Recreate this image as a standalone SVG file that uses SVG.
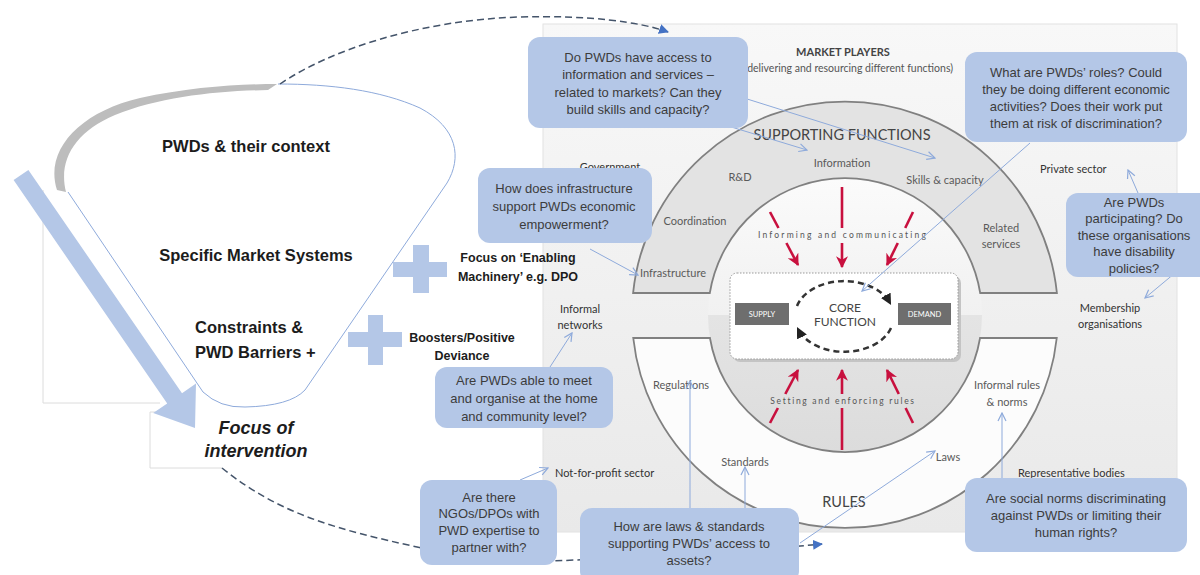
<svg xmlns="http://www.w3.org/2000/svg" width="1200" height="575" viewBox="0 0 1200 575">
<defs>
<linearGradient id="panelGrad" x1="0" y1="0" x2="0" y2="1">
<stop offset="0" stop-color="#f8f8f8"/><stop offset="1" stop-color="#e9e9e9"/>
</linearGradient>
<linearGradient id="discGrad" x1="0" y1="0" x2="0" y2="1">
<stop offset="0" stop-color="#fbfbfb"/><stop offset="0.5" stop-color="#f1f1f1"/><stop offset="0.5" stop-color="#e4e4e4"/><stop offset="1" stop-color="#dcdcdc"/>
</linearGradient>
<marker id="redHead" viewBox="0 0 10 10" refX="9" refY="5" markerWidth="12" markerHeight="12" markerUnits="userSpaceOnUse" orient="auto"><path d="M0,0 L10,5 L0,10 L3,5 Z" fill="#c8103e"/></marker>
<marker id="blueOpen" viewBox="0 0 10 10" refX="9" refY="5" markerWidth="10" markerHeight="10" markerUnits="userSpaceOnUse" orient="auto"><path d="M1,1 L9,5 L1,9" fill="none" stroke="#8eaadb" stroke-width="1.2"/></marker>
<marker id="dashHead" viewBox="0 0 10 10" refX="9" refY="5" markerWidth="10" markerHeight="10" markerUnits="userSpaceOnUse" orient="auto"><path d="M0,0 L10,5 L0,10 Z" fill="#4472c4"/></marker>
<marker id="coreHead" viewBox="0 0 10 10" refX="8" refY="5" markerWidth="11" markerHeight="11" markerUnits="userSpaceOnUse" orient="auto"><path d="M0,0 L10,5 L0,10 Z" fill="#222"/></marker>
<style>
.box{fill:#b4c7e7;}
.bt{font-family:"Liberation Sans",Arial,sans-serif;font-size:13px;fill:#3c3c3c;text-anchor:middle;}
.ft{font-family:"Liberation Sans",Arial,sans-serif;font-size:16.5px;font-weight:bold;fill:#1c1c1c;}
.pt{font-family:"Liberation Sans",Arial,sans-serif;font-size:12.5px;font-weight:bold;fill:#1c1c1c;text-anchor:middle;}
.rl{font-family:Lato,"Liberation Sans",sans-serif;font-size:11px;fill:#5a5a5a;text-anchor:middle;}
.ol{font-family:Lato,"Liberation Sans",sans-serif;font-size:11px;fill:#333;}
.plus{fill:#b4c7e7;}
.thin{fill:none;stroke:#8eaadb;stroke-width:1;marker-end:url(#blueOpen);}
.red{fill:none;stroke:#c8103e;stroke-width:2.6;}
.dash{fill:none;stroke:#44546a;stroke-width:1.5;stroke-dasharray:7 4;marker-end:url(#dashHead);}
.ring{stroke:#808080;stroke-width:1.8;}
.core{font-family:Lato,"Liberation Sans",sans-serif;font-size:12px;fill:#444;text-anchor:middle;}
</style>
</defs>
<rect width="1200" height="575" fill="#ffffff"/>

<g id="panel">
<rect x="543" y="24" width="634" height="508" fill="url(#panelGrad)" stroke="#e2e2e2" stroke-width="1"/>
</g>

<g id="backdrop-lines" fill="none" stroke="#dcdcdc" stroke-width="1">
<path d="M43,190 L43,403 L160,403"/>
<path d="M190,412 L150,412 L150,468 L222,468"/>
</g>

<g id="funnel">
<path d="M68,192 L203,392 Q220,408 245,407 Q290,406 305,390 L447,183 C462,158 458,128 420,108 C380,90 330,84 278,84" fill="#ffffff" stroke="#8eaadb" stroke-width="1"/>
<path d="M57,190 C44,150 80,112 140,98 C190,87 240,84 277,84 L268,90 C215,91 160,97 115,115 C75,132 58,160 66,192 Z" fill="#bdbdbd"/>
<text class="ft" x="246" y="152" text-anchor="middle">PWDs &amp; their context</text>
<text class="ft" x="256" y="261" text-anchor="middle">Specific Market Systems</text>
<text class="ft" x="195" y="333">Constraints &amp;</text>
<text class="ft" x="195" y="358">PWD Barriers +</text>
</g>

<g id="big-arrow">
<polygon points="28.4,169.9 182,393.2 196,383.6 195,428 153.2,413 167.2,403.4 13.6,180.1" fill="#b4c7e7"/>
</g>

<g id="focus-of-intervention">
<text x="256" y="434" text-anchor="middle" font-family="'Liberation Sans',Arial,sans-serif" font-size="18" font-weight="bold" font-style="italic" fill="#1c1c1c">Focus of</text>
<text x="256" y="457" text-anchor="middle" font-family="'Liberation Sans',Arial,sans-serif" font-size="18" font-weight="bold" font-style="italic" fill="#1c1c1c">intervention</text>
</g>

<g id="plus-enabling">
<rect class="plus" x="413" y="245" width="16" height="48"/>
<rect class="plus" x="393" y="262" width="54" height="15"/>
<text class="pt" x="518" y="262">Focus on ‘Enabling</text>
<text class="pt" x="518" y="281">Machinery’ e.g. DPO</text>
</g>

<g id="plus-boosters">
<rect class="plus" x="368" y="315" width="15" height="50"/>
<rect class="plus" x="348" y="332" width="54" height="15"/>
<text class="pt" x="462" y="342">Boosters/Positive</text>
<text class="pt" x="462" y="360">Deviance</text>
</g>

<g id="market-diagram">
<circle cx="845" cy="315" r="137" fill="url(#discGrad)"/>
<path class="ring" d="M633.1,293 A213,213 0 0 1 1056.9,293 L980.2,293 A137,137 0 0 0 709.8,293 Z" fill="#e3e3e3"/>
<path class="ring" d="M633.25,338 A213,213 0 0 0 1056.75,338 L980.06,338 A137,137 0 0 1 709.94,338 Z" fill="#fcfcfc"/>
<rect x="733" y="276" width="228" height="86" rx="7" fill="#c4c4c4"/>
<rect x="730" y="273" width="228" height="86" rx="7" fill="#ffffff" stroke="#9a9a9a" stroke-width="1" stroke-dasharray="1.5 1.5"/>
<rect x="735" y="303" width="54" height="22" fill="#6e6e6e"/>
<rect x="898" y="303" width="53" height="22" fill="#6e6e6e"/>
<text x="762" y="317" text-anchor="middle" font-family="Lato,'Liberation Sans',sans-serif" font-size="7.5" fill="#ffffff">SUPPLY</text>
<text x="924.5" y="317" text-anchor="middle" font-family="Lato,'Liberation Sans',sans-serif" font-size="7.5" fill="#ffffff">DEMAND</text>
<text class="core" x="845" y="312">CORE</text>
<text class="core" x="845" y="326">FUNCTION</text>
<path d="M797,306 A49,34 0 0 1 890,303" fill="none" stroke="#333" stroke-width="2.5" stroke-dasharray="6 4" marker-end="url(#coreHead)"/>
<path d="M891,328 A49,34 0 0 1 798,329" fill="none" stroke="#333" stroke-width="2.5" stroke-dasharray="6 4" marker-end="url(#coreHead)"/>
<text x="843" y="238" text-anchor="middle" font-family="Lato,'Liberation Sans',sans-serif" font-size="8.5" letter-spacing="2.2" fill="#555">Informing and communicating</text>
<text x="843" y="404" text-anchor="middle" font-family="Lato,'Liberation Sans',sans-serif" font-size="8.5" letter-spacing="1.7" fill="#555">Setting and enforcing rules</text>
<text x="842" y="140" text-anchor="middle" font-family="Lato,'Liberation Sans',sans-serif" font-size="14.5" fill="#444">SUPPORTING FUNCTIONS</text>
<text x="844" y="507" text-anchor="middle" font-family="Lato,'Liberation Sans',sans-serif" font-size="14.5" fill="#444">RULES</text>
<text class="rl" x="842" y="167">Information</text>
<text class="rl" x="740" y="181">R&amp;D</text>
<text class="rl" x="945" y="184">Skills &amp; capacity</text>
<text class="rl" x="695" y="225">Coordination</text>
<text class="rl" x="673" y="277">Infrastructure</text>
<text class="rl" x="1001" y="232">Related</text>
<text class="rl" x="1001" y="248">services</text>
<text class="rl" x="681" y="389">Regulations</text>
<text class="rl" x="745" y="466">Standards</text>
<text class="rl" x="948" y="461">Laws</text>
<text class="rl" x="1007" y="389">Informal rules</text>
<text class="rl" x="1007" y="406">&amp; norms</text>
</g>

<g id="market-players">
<text x="843" y="56" text-anchor="middle" font-family="Lato,'Liberation Sans',sans-serif" font-size="11" font-weight="bold" fill="#444">MARKET PLAYERS</text>
<text x="953" y="72" text-anchor="end" font-family="Lato,'Liberation Sans',sans-serif" font-size="10.5" fill="#555">(delivering and resourcing different functions)</text>
<text class="ol" x="610" y="171" text-anchor="middle">Government</text>
<text class="ol" x="1040" y="173">Private sector</text>
<text class="ol" x="1110" y="312" text-anchor="middle">Membership</text>
<text class="ol" x="1110" y="328" text-anchor="middle">organisations</text>
<text class="ol" x="580" y="313" text-anchor="middle">Informal</text>
<text class="ol" x="580" y="329" text-anchor="middle">networks</text>
<text class="ol" x="555" y="477">Not-for-profit sector</text>
<text class="ol" x="1018" y="477">Representative bodies</text>
</g>

<g id="connectors">
<path class="dash" d="M280,84 C330,50 420,20 520,17 C590,15 640,22 668,32"/>
<path class="dash" d="M222,468 C280,515 340,530 417,547 C480,560 520,563 575,560 C660,556 740,552 822,544"/>
<line class="thin" x1="728" y1="93" x2="935" y2="158"/>
<line class="thin" x1="728" y1="126" x2="807" y2="150"/>
<line class="thin" x1="590" y1="249" x2="638" y2="275"/>
<line class="thin" x1="1030" y1="143" x2="862" y2="291"/>
<line class="thin" x1="1138" y1="193" x2="1128" y2="170"/>
<line class="thin" x1="1187" y1="263" x2="1145" y2="298"/>
<line class="thin" x1="550" y1="367" x2="572" y2="333"/>
<line class="thin" x1="520" y1="480" x2="548" y2="468"/>
<line class="thin" x1="690" y1="508" x2="690" y2="381"/>
<line class="thin" x1="745" y1="508" x2="745" y2="467"/>
<line class="thin" x1="800" y1="543" x2="935" y2="451"/>
<line class="thin" x1="1002" y1="478" x2="1002" y2="413"/>
<line class="red" x1="770" y1="212" x2="778.5" y2="228"/>
<line class="red" x1="786.4" y1="243" x2="798" y2="265" marker-end="url(#redHead)"/>
<line class="red" x1="842" y1="187" x2="842" y2="228"/>
<line class="red" x1="842" y1="243" x2="842" y2="267" marker-end="url(#redHead)"/>
<line class="red" x1="913" y1="212" x2="905.2" y2="228"/>
<line class="red" x1="897.8" y1="243" x2="887" y2="265" marker-end="url(#redHead)"/>
<line class="red" x1="770" y1="423" x2="777.9" y2="408"/>
<line class="red" x1="785.3" y1="394" x2="798" y2="370" marker-end="url(#redHead)"/>
<line class="red" x1="842" y1="450" x2="842" y2="408"/>
<line class="red" x1="842" y1="394" x2="842" y2="370" marker-end="url(#redHead)"/>
<line class="red" x1="913" y1="423" x2="905.6" y2="408"/>
<line class="red" x1="898.8" y1="394" x2="887" y2="370" marker-end="url(#redHead)"/>
</g>

<g id="q-information">
<rect class="box" x="528" y="37" width="220" height="91" rx="12"/>
<text class="bt" x="638" y="61.5">Do PWDs have access to</text>
<text class="bt" x="638" y="78.5">information and services –</text>
<text class="bt" x="638" y="96.5">related to markets? Can they</text>
<text class="bt" x="638" y="113.5">build skills and capacity?</text>
</g>
<g id="q-roles">
<rect class="box" x="965" y="52" width="222" height="90" rx="12"/>
<text class="bt" x="1076" y="76.5">What are PWDs’ roles? Could</text>
<text class="bt" x="1076" y="93.5">they be doing different economic</text>
<text class="bt" x="1076" y="111">activities? Does their work put</text>
<text class="bt" x="1076" y="127.5">them at risk of discrimination?</text>
</g>
<g id="q-infrastructure">
<rect class="box" x="478" y="168" width="174" height="75" rx="12"/>
<text class="bt" x="564" y="192.5">How does infrastructure</text>
<text class="bt" x="564" y="210.5">support PWDs economic</text>
<text class="bt" x="564" y="228.5">empowerment?</text>
</g>
<g id="q-participating">
<rect class="box" x="1066" y="193" width="150" height="84" rx="12"/>
<text class="bt" x="1134" y="206.5">Are PWDs</text>
<text class="bt" x="1134" y="223">participating? Do</text>
<text class="bt" x="1134" y="239.5">these organisations</text>
<text class="bt" x="1134" y="256">have disability</text>
<text class="bt" x="1134" y="272.5">policies?</text>
</g>
<g id="q-organise">
<rect class="box" x="435" y="367" width="178" height="61" rx="12"/>
<text class="bt" x="524" y="384.5">Are PWDs able to meet</text>
<text class="bt" x="524" y="402.5">and organise at the home</text>
<text class="bt" x="524" y="420.5">and community level?</text>
</g>
<g id="q-ngos">
<rect class="box" x="420" y="480" width="137" height="85" rx="12"/>
<text class="bt" x="489" y="501.5">Are there</text>
<text class="bt" x="489" y="518">NGOs/DPOs with</text>
<text class="bt" x="489" y="534.5">PWD expertise to</text>
<text class="bt" x="489" y="551.5">partner with?</text>
</g>
<g id="q-laws">
<rect class="box" x="580" y="508" width="219" height="75" rx="12"/>
<text class="bt" x="689" y="530.5">How are laws &amp; standards</text>
<text class="bt" x="689" y="547.5">supporting PWDs’ access to</text>
<text class="bt" x="689" y="564.5">assets?</text>
</g>
<g id="q-norms">
<rect class="box" x="965" y="478" width="222" height="74" rx="12"/>
<text class="bt" x="1076" y="502.5">Are social norms discriminating</text>
<text class="bt" x="1076" y="519.5">against PWDs or limiting their</text>
<text class="bt" x="1076" y="536.5">human rights?</text>
</g>
</svg>
